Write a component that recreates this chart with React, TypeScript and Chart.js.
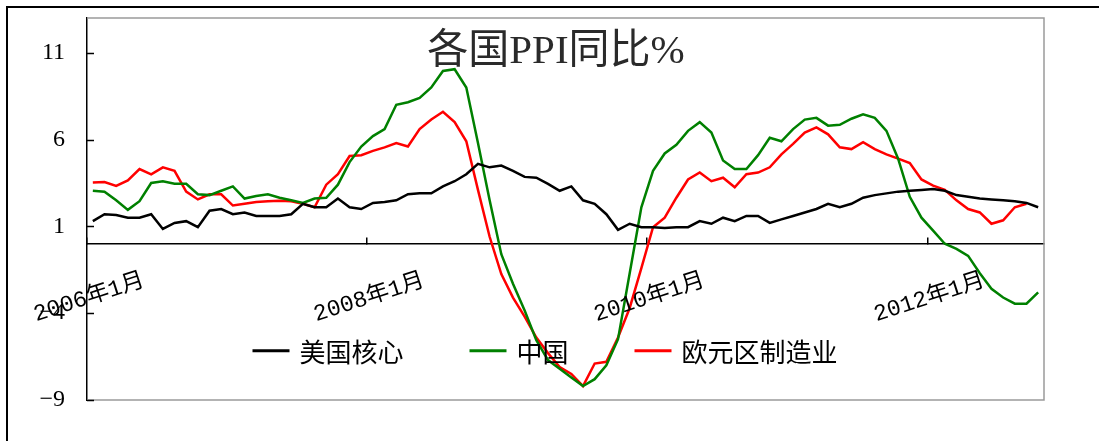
import React, { useEffect, useRef } from "react";
import { Chart, registerables } from "chart.js";

Chart.register(...registerables);

// ---------- data ----------
const START_YEAR = 2006;
const MONTH_COUNT = 82; // 2006年1月 … 2012年10月
const CATEGORIES: string[] = Array.from(
  { length: MONTH_COUNT },
  (_, i) => `${START_YEAR + Math.floor(i / 12)}年${(i % 12) + 1}月`
);
const X_TICK_LABELS = ["2006年1月", "2008年1月", "2010年1月", "2012年1月"];
const Y_TICKS = [-9, -4, 1, 6, 11];
const Y_MIN = -9;
const Y_MAX = 13;
const TITLE = "各国PPI同比%";

const SERIES_NAMES = ["美国核心", "中国", "欧元区制造业"];
const SERIES_COLORS = ["#000000", "#008000", "#FF0000"];

const US_CORE = [
  1.3, 1.7, 1.65, 1.5, 1.5, 1.7, 0.85, 1.2, 1.3, 0.95,
  1.9, 2.0, 1.7, 1.8, 1.6, 1.6, 1.6, 1.7, 2.3, 2.1,
  2.1, 2.6, 2.1, 2.0, 2.35, 2.4, 2.5, 2.85, 2.9, 2.9,
  3.3, 3.6, 4.0, 4.6, 4.4, 4.5, 4.2, 3.85, 3.8, 3.45,
  3.05, 3.3, 2.5, 2.3, 1.7, 0.8, 1.15, 0.95, 0.95, 0.9,
  0.95, 0.95, 1.3, 1.15, 1.5, 1.3, 1.6, 1.6, 1.2, 1.4,
  1.6, 1.8, 2.0, 2.3, 2.1, 2.3, 2.65, 2.8, 2.9, 3.0,
  3.05, 3.1, 3.15, 3.05, 2.8, 2.7, 2.6, 2.55, 2.5, 2.45,
  2.35, 2.1,
];

const CHINA = [
  3.05, 3.0, 2.5, 1.95, 2.45, 3.5, 3.6, 3.45, 3.45, 2.85,
  2.8, 3.05, 3.3, 2.6, 2.75, 2.85, 2.65, 2.5, 2.35, 2.6,
  2.65, 3.4, 4.7, 5.6, 6.2, 6.6, 8.0, 8.15, 8.4, 9.0,
  9.95, 10.05, 9.0, 5.8, 2.5, -0.6, -2.3, -3.85, -5.55, -6.7,
  -7.2, -7.7, -8.2, -7.8, -7.0, -5.5, -1.7, 2.1, 4.2, 5.2,
  5.7, 6.5, 7.0, 6.4, 4.8, 4.3, 4.3, 5.1, 6.1, 5.9,
  6.6, 7.15, 7.25, 6.8, 6.85, 7.2, 7.45, 7.25, 6.5, 4.9,
  2.7, 1.5, 0.75, 0.0, -0.3, -0.7, -1.7, -2.6, -3.1, -3.45,
  -3.45, -2.8,
];

const EUROZONE = [
  3.52, 3.55, 3.33, 3.65, 4.3, 4.0, 4.4, 4.2, 3.0, 2.55,
  2.85, 2.85, 2.2, 2.3, 2.4, 2.45, 2.47, 2.45, 2.3, 2.1,
  3.4, 4.0, 5.05, 5.1, 5.35, 5.55, 5.8, 5.6, 6.6, 7.15,
  7.6, 7.0, 5.9, 3.1, 0.4, -1.75, -3.1, -4.2, -5.4, -6.3,
  -7.1, -7.5, -8.2, -6.9, -6.8, -5.4, -3.7, -1.4, 0.95, 1.5,
  2.65, 3.7, 4.1, 3.6, 3.8, 3.25, 4.0, 4.1, 4.4, 5.15,
  5.75, 6.4, 6.7, 6.3, 5.55, 5.45, 5.85, 5.45, 5.15, 4.9,
  4.65, 3.7, 3.35, 3.1, 2.5, 2.0, 1.8, 1.15, 1.35, 2.1,
  2.3, null,
];

const SERIES_VALUES = [US_CORE, CHINA, EUROZONE];

// ---------- drawing helpers ----------
const CJK = '"Noto Sans CJK SC"';

const decorPlugin = {
  id: "decor",
  beforeDatasetsDraw(chart: any) {
    const { ctx, chartArea: a } = chart;
    const ys = chart.scales.y;
    ctx.save();
    // plot-area frame (top, right, bottom)
    ctx.strokeStyle = "#9a9a9a";
    ctx.lineWidth = 1.5;
    ctx.beginPath();
    ctx.moveTo(a.left, a.top);
    ctx.lineTo(a.right, a.top);
    ctx.lineTo(a.right, a.bottom);
    ctx.lineTo(a.left, a.bottom);
    ctx.stroke();
    // inside tick marks on y axis
    ctx.strokeStyle = "#000";
    ctx.beginPath();
    for (const v of Y_TICKS) {
      const y = Math.round(ys.getPixelForValue(v)) + 0.5;
      ctx.moveTo(a.left, y);
      ctx.lineTo(a.left + 7, y);
    }
    ctx.stroke();
    ctx.restore();
  },
  afterDatasetsDraw(chart: any) {
    const { ctx } = chart;
    const xs = chart.scales.x;
    const ys = chart.scales.y;
    const zeroY = ys.getPixelForValue(0);
    ctx.save();

    // rotated category labels
    const half = (xs.getPixelForValue(1) - xs.getPixelForValue(0)) / 2;
    ctx.fillStyle = "#000";
    ctx.font = `23px "Liberation Mono", ${CJK}`;
    ctx.textAlign = "center";
    ctx.textBaseline = "middle";
    for (const lab of X_TICK_LABELS) {
      const idx = CATEGORIES.indexOf(lab);
      if (idx < 0) continue;
      const x = xs.getPixelForValue(idx) - half;
      ctx.save();
      ctx.translate(x + 2, zeroY + 54);
      ctx.rotate((-18 * Math.PI) / 180);
      ctx.fillText(lab, 0, 0);
      ctx.restore();
    }

    // legend
    ctx.font = `26px ${CJK}`;
    ctx.textAlign = "left";
    ctx.textBaseline = "middle";
    const lineLen = 37;
    const textGap = 10;
    const itemGap = 66;
    const widths = chart.data.datasets.map((d: any) => ctx.measureText(d.label).width);
    const total =
      widths.reduce((s: number, w: number) => s + w + lineLen + textGap, 0) +
      itemGap * (widths.length - 1);
    let lx = 545 - total / 2;
    const ly = zeroY + 107;
    chart.data.datasets.forEach((d: any, i: number) => {
      ctx.strokeStyle = d.borderColor;
      ctx.lineWidth = 3;
      ctx.beginPath();
      ctx.moveTo(lx, ly);
      ctx.lineTo(lx + lineLen, ly);
      ctx.stroke();
      ctx.fillStyle = "#000";
      ctx.fillText(d.label, lx + lineLen + textGap, ly + 1);
      lx += lineLen + textGap + widths[i] + itemGap;
    });

    // title
    ctx.font = `41px "Liberation Serif", ${CJK}`;
    ctx.fillStyle = "#2a2a2a";
    ctx.textAlign = "center";
    ctx.textBaseline = "middle";
    ctx.fillText(TITLE, 556, 52);

    ctx.restore();
  },
};

export default function App() {
  const ref = useRef<HTMLCanvasElement | null>(null);

  useEffect(() => {
    if (!ref.current) return;
    const chart = new Chart(ref.current, {
      type: "line",
      data: {
        labels: CATEGORIES,
        datasets: SERIES_NAMES.map((name, i) => ({
          label: name,
          data: SERIES_VALUES[i],
          borderColor: SERIES_COLORS[i],
          backgroundColor: SERIES_COLORS[i],
          borderWidth: 2.5,
          pointRadius: 0,
          pointHoverRadius: 0,
          tension: 0,
          fill: false,
        })),
      },
      options: {
        responsive: false,
        animation: false,
        layout: { padding: { left: 0, top: 18, right: 55, bottom: 41 } },
        plugins: {
          legend: { display: false },
          title: { display: false },
          tooltip: { enabled: false },
        },
        scales: {
          x: {
            type: "category",
            offset: true,
            position: { y: 0 } as any,
            afterFit: (s: any) => {
              s.height = 0;
            },
            grid: {
              display: true,
              drawOnChartArea: false,
              drawTicks: true,
              tickLength: -7,
              offset: true,
              lineWidth: 1.5,
              color: (c: any) => (c.index % 24 === 0 ? "#000" : "rgba(0,0,0,0)"),
            },
            border: { display: true, color: "#000", width: 1.5 },
            ticks: { display: false, autoSkip: false },
          },
          y: {
            type: "linear",
            min: Y_MIN,
            max: Y_MAX,
            afterBuildTicks: (s: any) => {
              s.ticks = Y_TICKS.map((v) => ({ value: v }));
            },
            afterFit: (s: any) => {
              s.width = 87;
            },
            grid: { display: false, drawTicks: true, tickLength: 22 },
            border: { display: true, color: "#000", width: 1.5 },
            ticks: {
              padding: 0,
              color: "#000",
              font: { family: '"Liberation Serif"', size: 24 },
              callback: (v: any) => (Number(v) < 0 ? "\u2212" + Math.abs(Number(v)) : String(v)),
            },
          },
        },
      },
      plugins: [decorPlugin],
    });
    return () => chart.destroy();
  }, []);

  return (
    <div
      style={{
        position: "fixed",
        left: 0,
        top: 0,
        width: 1099,
        height: 441,
        background: "#fff",
        overflow: "hidden",
      }}
    >
      <div
        style={{
          position: "absolute",
          left: 6,
          top: 6,
          right: -10,
          bottom: -10,
          borderTop: "2px solid #000",
          borderLeft: "2px solid #000",
        }}
      />
      <canvas
        ref={ref}
        width={1099}
        height={441}
        style={{ position: "absolute", left: 0, top: 0 }}
      />
    </div>
  );
}
